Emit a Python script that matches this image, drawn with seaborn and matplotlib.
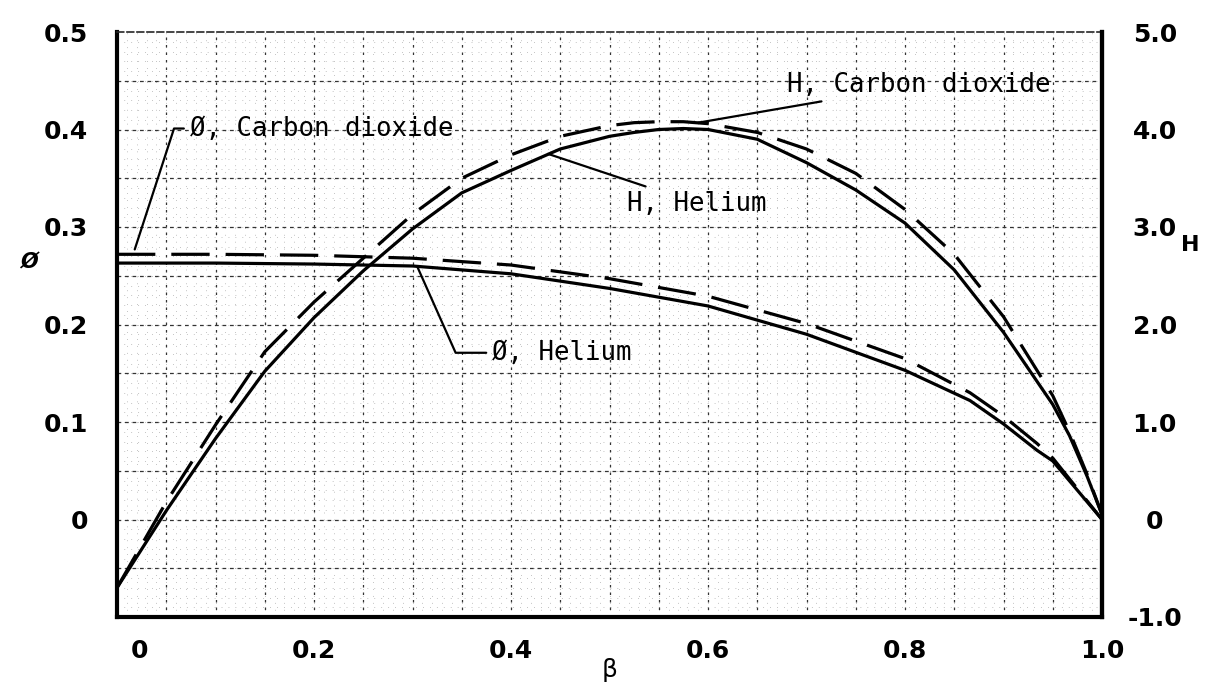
import numpy as np
import pandas as pd
import matplotlib
matplotlib.use("Agg")
import matplotlib.pyplot as plt
import matplotlib.transforms as mtrans
import seaborn as sns

# ---------------- data ----------------
beta_phi = [0.0, 0.1, 0.2, 0.3, 0.4, 0.5, 0.6, 0.7, 0.8, 0.866, 0.9, 0.934, 0.95, 1.0]
phi_helium = [0.263, 0.263, 0.262, 0.260, 0.252, 0.237, 0.219, 0.190, 0.153, 0.122,
              0.098, 0.071, 0.060, 0.0]
phi_co2 = [0.272, 0.272, 0.271, 0.268, 0.261, 0.247, 0.229, 0.201, 0.165, 0.130,
           0.106, 0.078, 0.063, 0.0]

beta_H = [0.0, 0.05, 0.1, 0.15, 0.2, 0.25, 0.3, 0.35, 0.4, 0.45, 0.5, 0.525,
          0.55, 0.575, 0.6, 0.65, 0.7, 0.75, 0.8, 0.85, 0.9, 0.95, 0.967, 0.985, 1.0]
H_helium = [-0.70, 0.09, 0.83, 1.52, 2.07, 2.55, 2.98, 3.35, 3.58, 3.80, 3.93, 3.97,
            4.00, 4.01, 4.00, 3.90, 3.66, 3.38, 3.04, 2.56, 1.92, 1.18, 0.86, 0.44, 0.05]
H_co2 = [-0.70, 0.18, 0.97, 1.72, 2.23, 2.68, 3.13, 3.50, 3.74, 3.93, 4.04, 4.07,
         4.08, 4.08, 4.06, 3.97, 3.80, 3.55, 3.18, 2.72, 2.08, 1.27, 0.90, 0.46, 0.05]

x_ticks = [0.0, 0.2, 0.4, 0.6, 0.8, 1.0]
x_labels = ["0", "0.2", "0.4", "0.6", "0.8", "1.0"]
phi_ticks = [0.0, 0.1, 0.2, 0.3, 0.4, 0.5]
phi_labels = ["0", "0.1", "0.2", "0.3", "0.4", "0.5"]
H_ticks = [-1.0, 0.0, 1.0, 2.0, 3.0, 4.0, 5.0]
H_labels = ["-1.0", "0", "1.0", "2.0", "3.0", "4.0", "5.0"]

phi_df = pd.DataFrame({"beta": beta_phi, "helium": phi_helium, "co2": phi_co2})
H_df = pd.DataFrame({"beta": beta_H, "helium": H_helium, "co2": H_co2})

# ---------------- figure ----------------
sns.set_theme(style="white")
plt.rcParams["font.family"] = ["DejaVu Sans"]

W, Hpx = 1211, 686
fig = plt.figure(figsize=(W / 100, Hpx / 100), dpi=100)
L, R, T, B = 117, 1102, 32, 617
ax = fig.add_axes([L / W, 1 - B / Hpx, (R - L) / W, (B - T) / Hpx])
ax.set_xlim(0, 1.0)
ax.set_ylim(-0.1, 0.5)
ax2 = ax.twinx()
ax2.set_ylim(-1.0, 5.0)

# graph-paper grid
for v in np.arange(0.01, 1.0, 0.01):
    ax.axvline(v, color="0.55", lw=0.5, ls=(0, (1, 9)), zorder=0.3)
for v in np.arange(-0.09, 0.5, 0.01):
    ax.axhline(v, color="0.55", lw=0.5, ls=(0, (1, 9)), zorder=0.3)
for v in np.arange(0.05, 0.99, 0.05):
    ax.axvline(v, color="0.2", lw=0.9, ls=(0, (2, 4)), zorder=0.5)
for v in np.arange(-0.05, 0.49, 0.05):
    ax.axhline(v, color="0.2", lw=0.9, ls=(0, (3, 3)), zorder=0.5)

dash = (0, (12, 5))
sns.lineplot(data=phi_df, x="beta", y="helium", ax=ax, color="black", lw=2.3, zorder=3)
sns.lineplot(data=phi_df, x="beta", y="co2", ax=ax, color="black", lw=2.3, ls=dash, zorder=3)
sns.lineplot(data=H_df, x="beta", y="helium", ax=ax2, color="black", lw=2.3, zorder=3)
sns.lineplot(data=H_df, x="beta", y="co2", ax=ax2, color="black", lw=2.3, ls=dash, zorder=3)

ax.set_xlabel("")
ax.set_ylabel("")
ax2.set_ylabel("")

# ticks
ax.set_xticks(x_ticks)
ax.set_xticklabels(x_labels)
ax.set_yticks(phi_ticks)
ax.set_yticklabels(phi_labels)
ax2.set_yticks(H_ticks)
ax2.set_yticklabels(H_labels)
ax.tick_params(axis="both", length=0, labelsize=18, colors="black")
ax.tick_params(axis="y", pad=21)
ax.tick_params(axis="x", pad=16)
ax2.tick_params(axis="y", length=0, labelsize=18, pad=38, colors="black")
for lab in ax.get_xticklabels() + ax.get_yticklabels() + ax2.get_yticklabels():
    lab.set_fontweight("bold")
for lab in ax2.get_yticklabels():
    lab.set_horizontalalignment("center")
first = ax.get_xticklabels()[0]
first.set_transform(first.get_transform() + mtrans.ScaledTranslation(0.23, 0, fig.dpi_scale_trans))

# spines
for s in ["left", "bottom", "right"]:
    ax.spines[s].set_linewidth(3)
    ax.spines[s].set_color("black")
ax.spines["top"].set_linewidth(1.2)
ax.spines["top"].set_linestyle((0, (4, 2)))
ax.spines["top"].set_color("0.15")
for s in ["left", "bottom", "top"]:
    ax2.spines[s].set_visible(False)
ax2.spines["right"].set_linewidth(3)
ax2.spines["right"].set_color("black")

# annotations
mono = dict(family="DejaVu Sans Mono", fontsize=18.5, color="black")
lprops = dict(arrowstyle="-", color="black", lw=1.6, shrinkA=2, shrinkB=0)
ax.annotate("Ø, Carbon dioxide", xy=(0.018, 0.277), xytext=(0.074, 0.401),
            ha="left", va="center", zorder=5,
            arrowprops=dict(lprops, connectionstyle="angle,angleA=0,angleB=72,rad=0"), **mono)
ax.annotate("Ø, Helium", xy=(0.305, 0.259), xytext=(0.381, 0.171),
            ha="left", va="center", zorder=5,
            arrowprops=dict(lprops, connectionstyle="angle,angleA=0,angleB=-66,rad=0"), **mono)
ax2.annotate("H, Carbon dioxide", xy=(0.59, 4.07), xytext=(0.68, 4.46),
             ha="left", va="center", zorder=5, arrowprops=lprops, **mono)
ax2.annotate("H, Helium", xy=(0.4376, 3.75), xytext=(0.518, 3.24),
             ha="left", va="center", zorder=5, arrowprops=lprops, **mono)

# axis titles
fig.text(610 / W, 1 - 670 / Hpx, "β", ha="center", va="center", fontsize=18, color="black")
fig.text(30 / W, 1 - 262 / Hpx, "Ø", ha="center", va="center", fontsize=15,
         fontweight="bold", style="italic", color="black")
fig.text(1190 / W, 1 - 245 / Hpx, "H", ha="center", va="center", fontsize=16,
         fontweight="bold", color="black")

fig.savefig("out.png", dpi=100)
